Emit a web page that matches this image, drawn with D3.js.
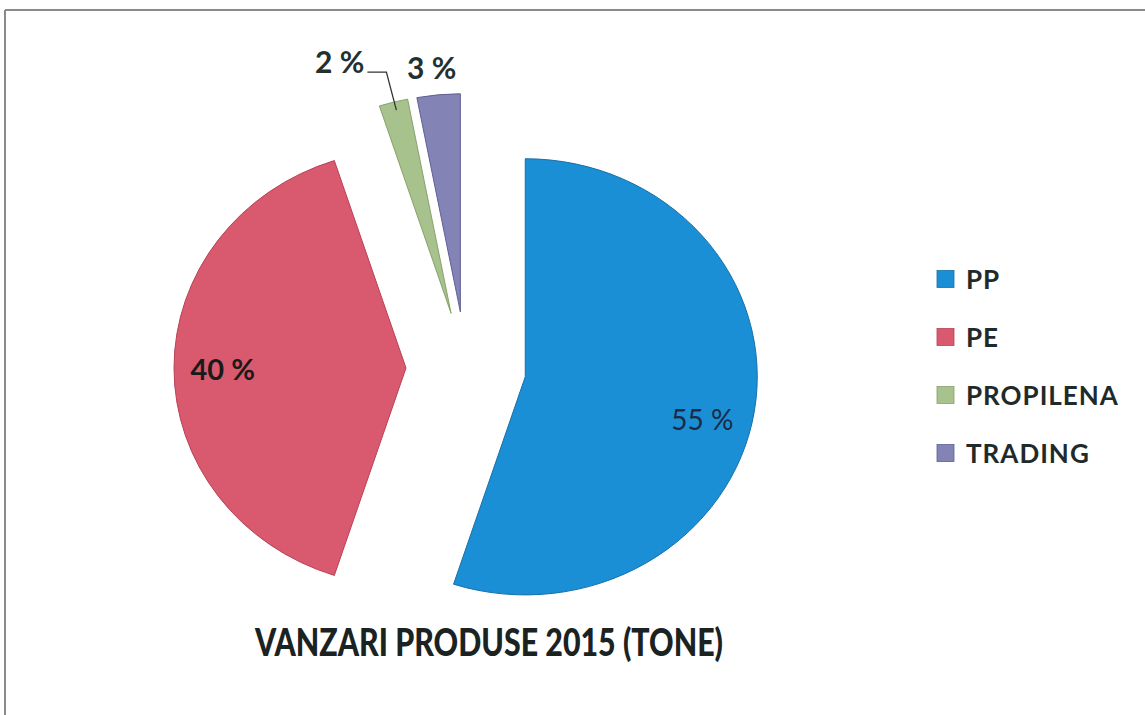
<!DOCTYPE html>
<html>
<head>
<meta charset="utf-8">
<script src="https://cdn.jsdelivr.net/npm/d3@7"></script>
<style>
  html, body { margin: 0; padding: 0; background: #fff; }
  svg { display: block; }
</style>
</head>
<body>
<svg id="chart" width="1145" height="715"></svg>
<script>
// ---- data ----
const categories = ["PP", "PE", "PROPILENA", "TRADING"];
const values = [55, 40, 2, 3];
const labels = ["55 %", "40 %", "2 %", "3 %"];
const colors = ["#1b8fd6", "#d95a6e", "#a7c28c", "#8383b6"];
const strokes = ["#1670a8", "#b84055", "#86a26c", "#5f5f95"];
const title = "VANZARI PRODUSE 2015 (TONE)";

// ---- layout ----
const W = 1145, H = 715;
const svg = d3.select("#chart");
svg.append("rect").attr("width", W).attr("height", H).attr("fill", "#fff");

// frame (scan border)
svg.append("line").attr("x1", 5).attr("y1", 10).attr("x2", W).attr("y2", 10)
  .attr("stroke", "#8a8a8a").attr("stroke-width", 2);
svg.append("line").attr("x1", 5).attr("y1", 10).attr("x2", 5).attr("y2", H)
  .attr("stroke", "#8a8a8a").attr("stroke-width", 2);

const cx = 466, cy = 368, R = 232, yScale = 0.94, explode = 60;
const fontFam = "Lato, 'Open Sans', sans-serif";

const pie = d3.pie().sort(null).value(d => d).startAngle(0).endAngle(2 * Math.PI);
const arcs = pie(values);
const arc = d3.arc().innerRadius(0).outerRadius(R);

const mid = a => (a.startAngle + a.endAngle) / 2;
const polar = (ang, r) => [r * Math.sin(ang), -r * Math.cos(ang)];

const pieG = svg.append("g").attr("transform", `translate(${cx},${cy}) scale(1,${yScale})`);

pieG.selectAll("path.slice").data(arcs).enter().append("path")
  .attr("class", "slice")
  .attr("d", arc)
  .attr("transform", d => { const [dx, dy] = polar(mid(d), explode); return `translate(${dx},${dy})`; })
  .attr("fill", (d, i) => colors[i])
  .attr("stroke", (d, i) => strokes[i])
  .attr("stroke-width", 1)
  .attr("vector-effect", "non-scaling-stroke");

// convert pie-space to screen
const toScreen = (p) => [cx + p[0], cy + p[1] * yScale];

const labelStyle = [
  { inside: true, r: 0.79, shift: [-4, 15], weight: 400, fill: "#1a2b45", size: 28 },
  { inside: true, r: 0.79, shift: [0, 0], weight: 700, fill: "#1a1a1a", size: 29 },
  { inside: false, weight: 700, fill: "#243030", size: 30 },
  { inside: false, weight: 700, fill: "#243030", size: 30 }
];

// inside labels (large slices)
arcs.forEach((a, i) => {
  const st = labelStyle[i];
  const m = mid(a);
  const off = polar(m, explode);
  if (st.inside) {
    const p = polar(m, R * st.r);
    const [sx, sy] = toScreen([off[0] + p[0], off[1] + p[1]]);
    svg.append("text")
      .attr("x", sx + st.shift[0]).attr("y", sy + st.shift[1])
      .attr("text-anchor", "middle").attr("dominant-baseline", "central")
      .attr("font-family", fontFam).attr("font-size", st.size)
      .attr("font-weight", st.weight).attr("fill", st.fill)
      .text(labels[i]);
  }
});

// outside label: PROPILENA with leader line
{
  const a = arcs[2], m = mid(a);
  const off = polar(m, explode);
  const edge = polar(m, R);
  const [ex, ey] = toScreen([off[0] + edge[0], off[1] + edge[1]]);
  const elbow = [ex - 7, ey - 30];
  const end = [elbow[0] - 19, elbow[1]];
  svg.append("path")
    .attr("d", d3.line()([[ex + 3, ey + 8], elbow, end]))
    .attr("fill", "none").attr("stroke", "#333").attr("stroke-width", 1.3);
  svg.append("text")
    .attr("x", end[0] - 3).attr("y", end[1] + 1)
    .attr("text-anchor", "end")
    .attr("font-family", fontFam).attr("font-size", labelStyle[2].size)
    .attr("font-weight", 700).attr("fill", labelStyle[2].fill)
    .text(labels[2]);
}
// outside label: TRADING
{
  const a = arcs[3], m = mid(a);
  const off = polar(m, explode);
  const p = polar(m, R + 30);
  const [sx, sy] = toScreen([off[0] + p[0], off[1] + p[1]]);
  svg.append("text")
    .attr("x", sx - 4).attr("y", sy)
    .attr("text-anchor", "middle").attr("dominant-baseline", "central")
    .attr("font-family", fontFam).attr("font-size", labelStyle[3].size)
    .attr("font-weight", 700).attr("fill", labelStyle[3].fill)
    .text(labels[3]);
}

// legend
const legY = d3.scalePoint().domain(categories).range([279, 453]);
const leg = svg.append("g");
categories.forEach((c, i) => {
  leg.append("rect")
    .attr("x", 937).attr("y", legY(c) - 8.5).attr("width", 17).attr("height", 17)
    .attr("fill", colors[i]).attr("stroke", strokes[i]).attr("stroke-width", 0.8);
  leg.append("text")
    .attr("x", 966).attr("y", legY(c)).attr("dominant-baseline", "central")
    .attr("font-family", fontFam).attr("font-size", 26).attr("font-weight", 700)
    .attr("letter-spacing", 1)
    .attr("fill", "#1f2a2a")
    .text(c);
});

// title
svg.append("text")
  .attr("x", 255).attr("y", 656)
  .attr("font-family", fontFam).attr("font-size", 37).attr("font-weight", 900)
  .attr("fill", "#1b2222")
  .attr("textLength", 468).attr("lengthAdjust", "spacingAndGlyphs")
  .text(title);
</script>
</body>
</html>
